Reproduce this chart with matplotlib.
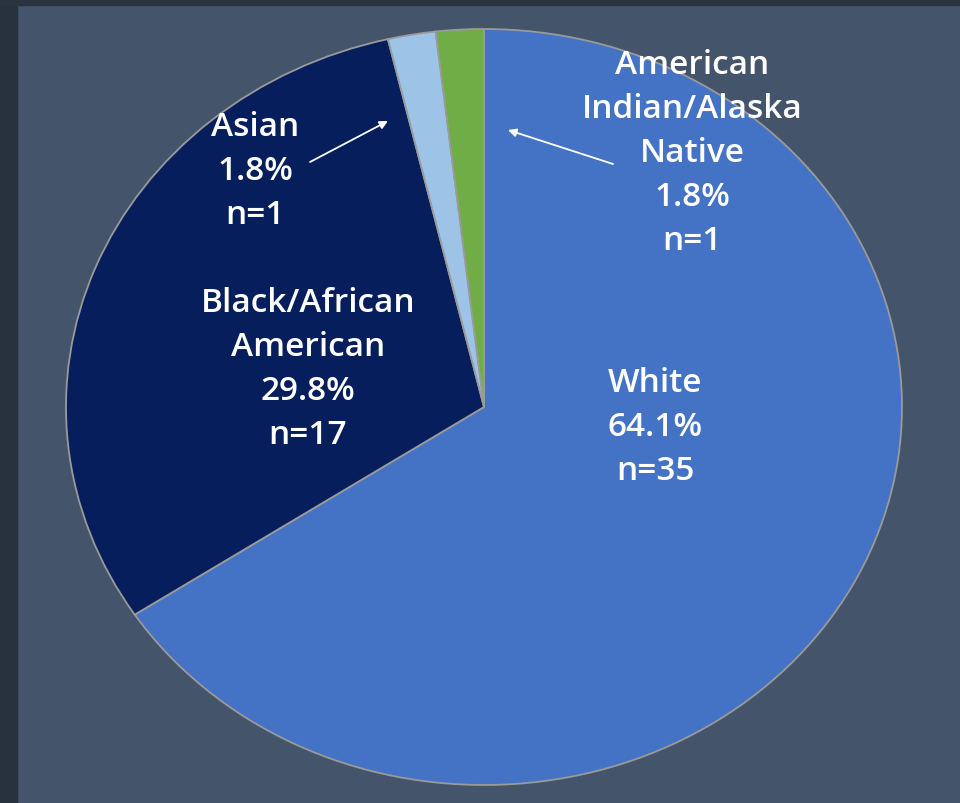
import matplotlib
matplotlib.use("Agg")
import matplotlib.pyplot as plt
from matplotlib.patches import Rectangle

categories = ["White", "Black/African\nAmerican", "Asian", "American\nIndian/Alaska\nNative"]
percents = [64.1, 29.8, 1.8, 1.8]
counts = [35, 17, 1, 1]
colors = ["#4472C4", "#061E5C", "#9DC3E6", "#70AD47"]

W, H = 960, 804
fig = plt.figure(figsize=(W / 100, H / 100), dpi=100, facecolor="#44546A")
# dark frame strips
fig.patches.append(Rectangle((0, 0), 17 / W, 1, transform=fig.transFigure, color="#28323C", zorder=0))
fig.patches.append(Rectangle((0, 1 - 6 / H), 1, 6 / H, transform=fig.transFigure, color="#2B343E", zorder=0))

cx, cy, rx, ry = 484, 408, 418, 378
ax = fig.add_axes([(cx - rx) / W, (H - cy - ry) / H, 2 * rx / W, 2 * ry / H])
ax.set_facecolor("none")
ax.pie(percents, colors=colors, startangle=90, counterclock=False,
       wedgeprops=dict(edgecolor="#9A9A9A", linewidth=1.3))
ax.set_aspect("auto")
ax.set_xlim(-1.0, 1.0)
ax.set_ylim(-1.0, 1.0)

def d(px, py):
    return ((px - cx) / rx, (cy - py) / ry)

font = dict(color="white", fontsize=24, family="Open Sans", ha="center", va="center",
            linespacing=1.44, fontweight="semibold")

def lab(i):
    return f"{categories[i]}\n{percents[i]:.1f}%\nn={counts[i]}"

ax.text(*d(655, 428), lab(0), **font)
ax.text(*d(308, 370), lab(1), **font)
ax.text(*d(255, 172), lab(2), **font)
ax.text(*d(692, 153), lab(3), **font)

arrow = dict(arrowstyle="-|>", color="white", lw=1.3, mutation_scale=12, shrinkA=0, shrinkB=0)
ax.annotate("", xy=d(388, 122), xytext=d(310, 163), arrowprops=arrow)
ax.annotate("", xy=d(508, 131), xytext=d(613, 165), arrowprops=arrow)

fig.savefig("out.png", dpi=100, facecolor=fig.get_facecolor())
